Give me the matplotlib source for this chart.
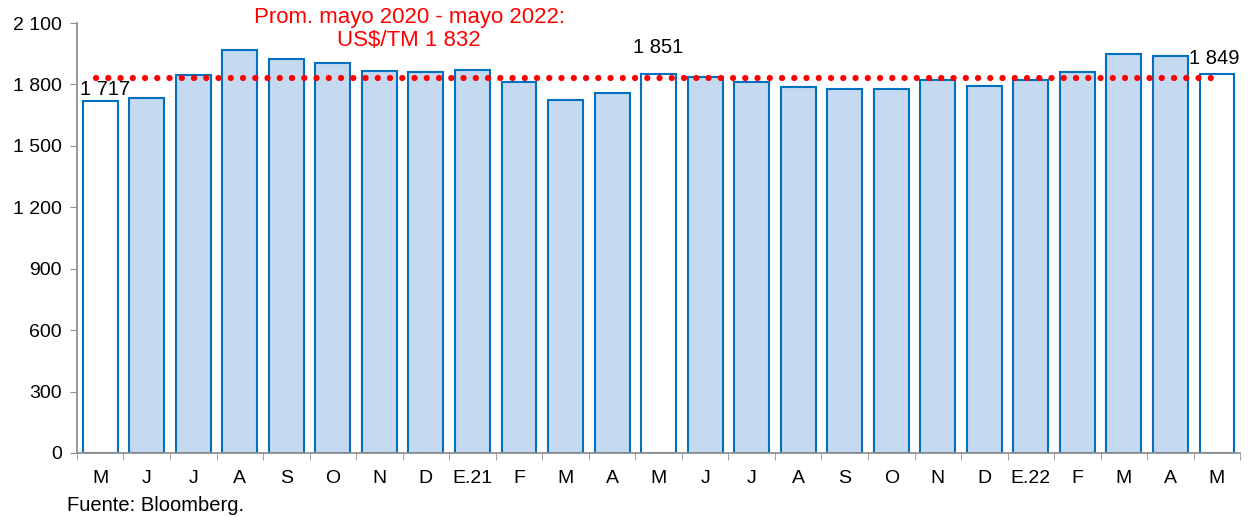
import numpy as np
import matplotlib.pyplot as plt
from matplotlib.ticker import FuncFormatter, FixedLocator

plt.rcParams['font.family'] = ['Liberation Sans', 'DejaVu Sans']

# meses mayo 2020 - mayo 2022
meses = ['M', 'J', 'J', 'A', 'S', 'O', 'N', 'D', 'E.21', 'F', 'M', 'A',
         'M', 'J', 'J', 'A', 'S', 'O', 'N', 'D', 'E.22', 'F', 'M', 'A', 'M']
precio = [1717, 1735, 1845, 1970, 1923, 1904, 1866, 1863, 1870, 1810, 1722, 1759,
          1851, 1837, 1810, 1787, 1779, 1779, 1823, 1790, 1821, 1860, 1951, 1938, 1849]
promedio = 1832
destacados = [0, 12, 24]

x = np.arange(len(meses))
colores = ['white' if i in destacados else '#C5D9F1' for i in x]

fig = plt.figure(figsize=(12.49, 5.17), dpi=100)
ax = fig.add_axes([0.0616, 0.1238, 0.9314, 0.8317])

ax.bar(x, precio, width=0.75, color=colores, edgecolor='#0070C0', linewidth=1.5, zorder=2)

ax.plot([-0.08, 23.95], [promedio, promedio], color='#FF0000', linewidth=4.5,
        linestyle=(0, (0.01, 1.95)), dash_capstyle='round', zorder=3)

ax.set_xlim(-0.5, len(meses) - 0.5)
ax.set_ylim(0, 2100)
ax.set_yticks(range(0, 2101, 300))
ax.yaxis.set_major_formatter(FuncFormatter(lambda v, p: '{:,}'.format(int(v)).replace(',', ' ')))

ax.set_xticks(x)
ax.set_xticklabels(meses)
ax.xaxis.set_minor_locator(FixedLocator(np.arange(-0.5, len(meses), 1)))
ax.tick_params(axis='x', which='major', length=0, pad=12, labelsize=14)
ax.tick_params(axis='x', which='minor', length=5, color='#909090', direction='out')
ax.tick_params(axis='y', length=5, color='#909090', labelsize=14, pad=6)

for s in ['top', 'right']:
    ax.spines[s].set_visible(False)
for s in ['left', 'bottom']:
    ax.spines[s].set_color('#909090')
    ax.spines[s].set_linewidth(1.3)

# etiquetas
ax.text(0.1, precio[0] + 12, '1 717', ha='center', va='bottom', fontsize=14.5)
ax.text(12, precio[12] + 85, '1 851', ha='center', va='bottom', fontsize=14.5)
ax.text(23.95, precio[24] + 30, '1 849', ha='center', va='bottom', fontsize=14.5)

ax.text(6.64, 2071, 'Prom. mayo 2020 - mayo 2022:\nUS\\$/TM 1 832', color='#FF0000',
        ha='center', va='center', fontsize=16, linespacing=1.1, clip_on=False)

fig.text(0.054, 0.023, 'Fuente: Bloomberg.', fontsize=14.5, ha='left', va='center')

plt.savefig('out.png', dpi=100)
